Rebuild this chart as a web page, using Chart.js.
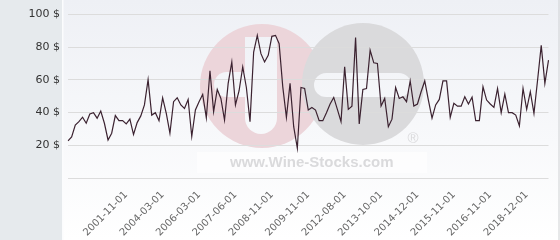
<!DOCTYPE html>
<html>
<head>
<meta charset="utf-8">
<script src="https://cdn.jsdelivr.net/npm/chart.js@4/dist/chart.umd.min.js"></script>
<style>
  html, body { margin: 0; padding: 0; background: #ffffff; }
  #wrap { width: 560px; height: 240px; position: relative; }
  canvas { display: block; }
</style>
</head>
<body>
<div id="wrap"><canvas id="c" width="560" height="240"></canvas></div>
<script>
// Price series (USD), one value per observation
const prices = [
  22.7, 25.2, 32.4, 34.5, 37.2, 33.5, 39.2, 40.0, 36.6, 41.0, 33.5, 23.3, 27.4, 38.2, 35.1, 35.1, 33.1, 36.0, 26.6, 33.9, 38.0, 44.7,
  60.2, 38.5, 40.0, 35.1, 49.1, 39.6, 27.4, 46.7, 49.1, 44.7, 42.6, 48.1, 25.4, 41.6, 46.7, 51.2, 36.9, 65.6, 40.6, 54.2, 48.7, 35.5,
  57.9, 71.0, 44.7, 53.4, 68.0, 55.4, 34.5, 77.1, 87.3, 76.1, 71.0, 75.1, 86.7, 87.3, 82.2, 55.8, 37.1, 57.9, 31.4, 18.2, 55.4, 54.8, 41.6,
  43.2, 41.6, 35.1, 35.1, 40.0, 45.3, 49.3, 42.0, 34.5, 68.0, 42.0, 44.0, 85.9, 33.1, 54.2, 54.8, 78.2, 70.5, 70.1, 44.0, 48.7, 31.4, 36.0,
  55.4, 48.7, 49.7, 46.7, 59.4, 44.0, 45.3, 52.8, 59.4, 47.7, 36.6, 44.7, 48.1, 59.4, 59.4, 37.1, 45.7, 44.0, 44.0, 49.7, 45.3, 49.5,
  35.1, 35.1, 55.8, 47.7, 45.3, 43.2, 54.8, 40.0, 51.3, 40.0, 40.0, 38.5, 31.9, 54.8, 42.0, 52.8, 39.6, 60.0, 81.2, 57.9, 72.1
];
// Dates shown on the x axis and the observation they belong to
const tickLabels = ['2001-11-01','2004-03-01','2006-03-01','2007-06-01','2008-11-01','2009-11-01',
                    '2012-08-01','2013-10-01','2014-12-01','2015-11-01','2016-11-01','2018-12-01'];
const tickIndex  = [16, 26, 36, 46, 56, 66, 76, 86, 96, 106, 116, 126];
// y-axis ticks
const yTicks = [0, 20, 40, 60, 80, 100];

const categories = prices.map((_, i) => {
  const k = tickIndex.indexOf(i);
  return k >= 0 ? tickLabels[k] : '';
});

function pill(ctx, x1, y1, x2, y2) {
  const r = (y2 - y1) / 2;
  ctx.beginPath();
  ctx.moveTo(x1 + r, y1);
  ctx.lineTo(x2 - r, y1);
  ctx.arc(x2 - r, y1 + r, r, -Math.PI / 2, Math.PI / 2);
  ctx.lineTo(x1 + r, y2);
  ctx.arc(x1 + r, y1 + r, r, Math.PI / 2, Math.PI * 1.5);
  ctx.closePath();
  ctx.fill();
}
function vpill(ctx, x1, y1, x2, y2) {
  const r = (x2 - x1) / 2;
  ctx.beginPath();
  ctx.moveTo(x1, y1);
  ctx.lineTo(x2, y1);
  ctx.lineTo(x2, y2 - r);
  ctx.arc(x1 + r, y2 - r, r, 0, Math.PI);
  ctx.closePath();
  ctx.fill();
}

const backdrop = {
  id: 'backdrop',
  beforeDraw(chart) {
    const ctx = chart.ctx;
    ctx.save();
    const g = ctx.createLinearGradient(0, 0, 0, 240);
    g.addColorStop(0, '#eef0f5');
    g.addColorStop(1, '#ffffff');
    ctx.fillStyle = g;
    ctx.fillRect(62, 0, 498, 240);
    ctx.fillStyle = '#e6eaed';
    ctx.fillRect(0, 0, 62, 240);
    ctx.fillStyle = '#fbfcfd';
    ctx.fillRect(62, 0, 1.5, 240);
    ctx.fillStyle = '#cfd1d4';
    ctx.fillRect(558.5, 0, 1, 240);

    // watermark logo
    const off = document.createElement('canvas');
    off.width = 560; off.height = 240;
    const o = off.getContext('2d');
    o.fillStyle = '#ecd5da';
    o.beginPath(); o.arc(262, 86, 62, 0, Math.PI * 2); o.fill();
    o.globalCompositeOperation = 'destination-out';
    o.fillStyle = '#000';
    vpill(o, 245, 37, 277, 134);
    pill(o, 214, 72, 262, 97);
    o.globalCompositeOperation = 'source-over';
    o.fillStyle = '#dadadc';
    o.beginPath(); o.arc(363, 84, 61, 0, Math.PI * 2); o.fill();
    o.globalCompositeOperation = 'destination-out';
    pill(o, 314, 73, 411, 97);
    o.globalCompositeOperation = 'source-over';
    ctx.drawImage(off, 0, 0);

    ctx.fillStyle = 'rgba(255,255,255,0.6)';
    ctx.fillRect(197, 152, 230, 21);
    ctx.fillStyle = '#dadadc';
    ctx.font = 'bold 15px "Liberation Sans", Arial, sans-serif';
    ctx.textBaseline = 'alphabetic';
    ctx.textAlign = 'left';
    ctx.fillText('www.Wine-Stocks.com', 230, 167);
    ctx.font = '15px "Liberation Sans", Arial, sans-serif';
    ctx.textAlign = 'center';
    ctx.fillText('®', 413, 143);
    ctx.restore();
  }
};

new Chart(document.getElementById('c'), {
  type: 'line',
  data: {
    labels: categories,
    datasets: [{
      data: prices,
      borderColor: '#3b2230',
      borderWidth: 1.2,
      pointRadius: 0,
      pointHoverRadius: 0,
      tension: 0,
      fill: false
    }]
  },
  options: {
    responsive: false,
    animation: false,
    devicePixelRatio: 1,
    layout: { padding: { top: 14, right: 5, left: 0, bottom: 0 } },
    plugins: { legend: { display: false }, tooltip: { enabled: false } },
    scales: {
      x: {
        type: 'category',
        offset: false,
        grid: { display: false },
        border: { display: false },
        ticks: {
          autoSkip: false,
          minRotation: 45,
          maxRotation: 45,
          padding: 3,
          color: '#666666',
          font: { family: '"DejaVu Sans", sans-serif', size: 10 },
          callback: (v, i) => categories[i]
        },
        afterFit: s => { s.height = 62; }
      },
      y: {
        min: yTicks[0],
        max: yTicks[yTicks.length - 1],
        afterBuildTicks: s => { s.ticks = yTicks.map(v => ({ value: v })); },
        grid: { color: '#dcdcdc', drawTicks: false, lineWidth: 1 },
        border: { display: false },
        ticks: {
          padding: 8,
          color: '#333333',
          font: { family: '"DejaVu Sans", sans-serif', size: 11 },
          callback: v => (v === 0 ? '' : v + ' $')
        },
        afterFit: s => { s.width = 68; }
      }
    }
  },
  plugins: [backdrop]
});
</script>
</body>
</html>
